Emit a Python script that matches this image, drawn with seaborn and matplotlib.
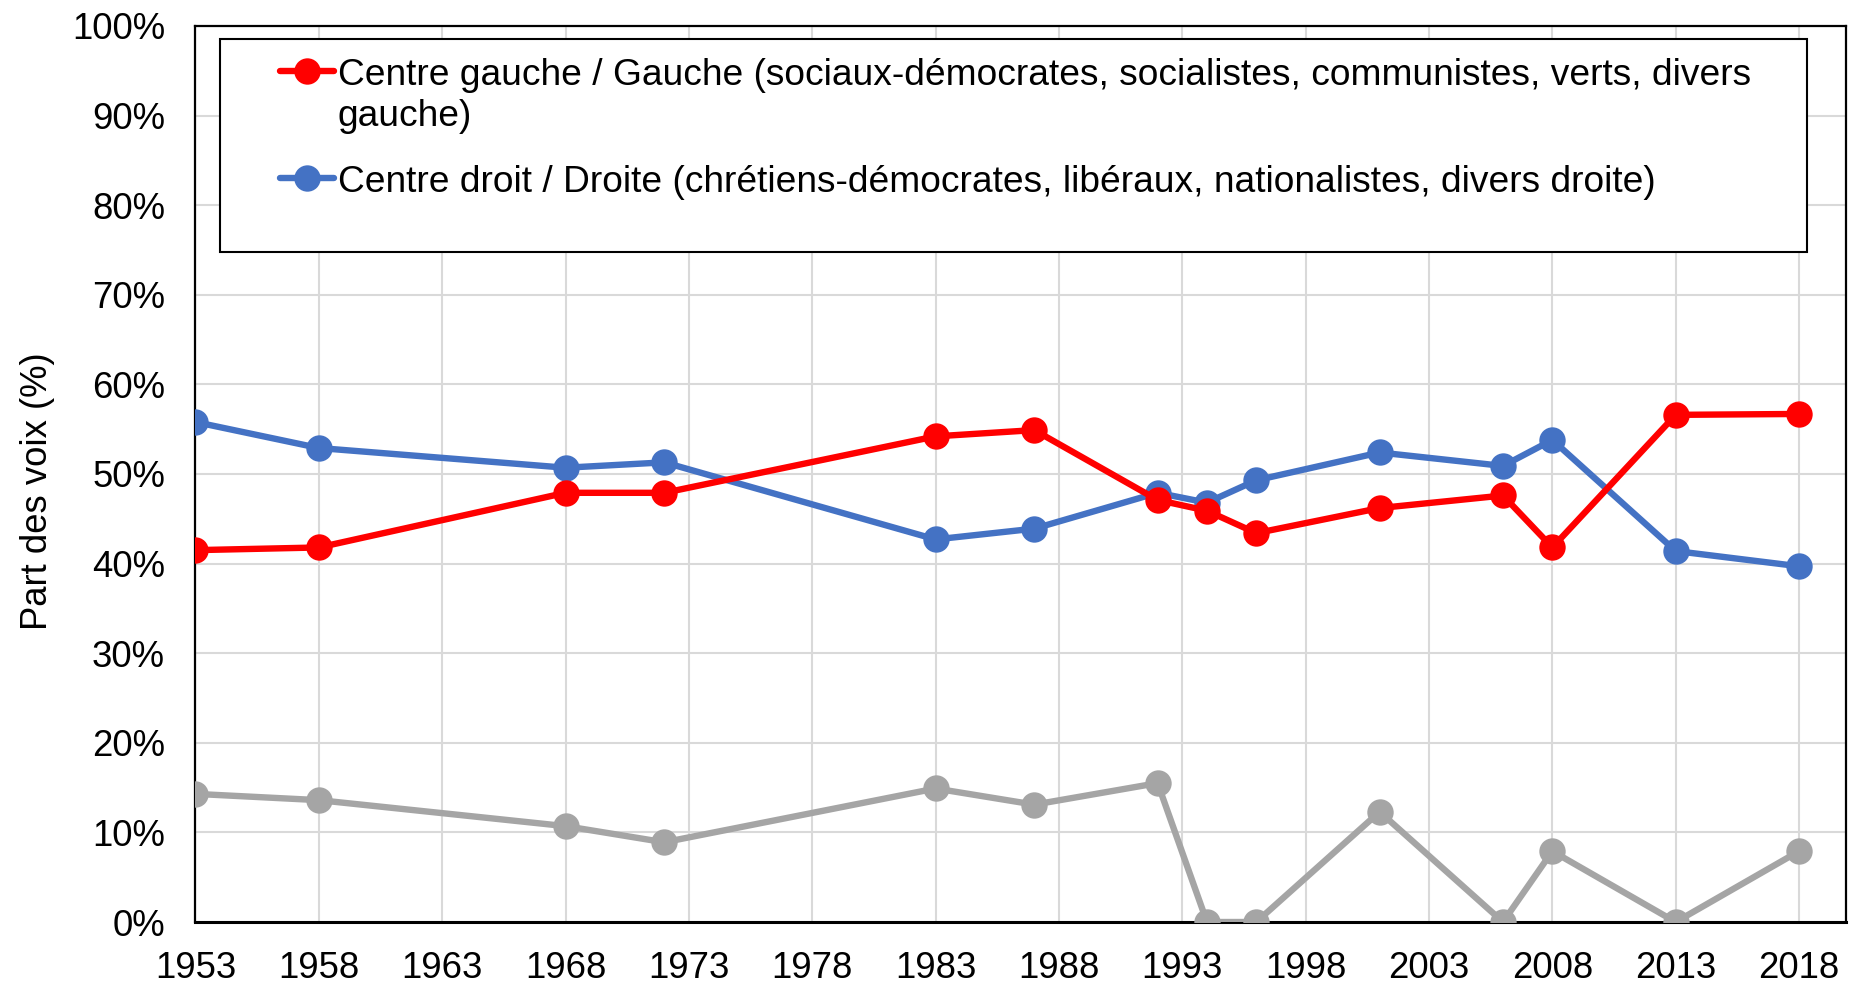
import matplotlib
matplotlib.use("Agg")
import matplotlib.pyplot as plt
import seaborn as sns
import pandas as pd
from matplotlib.lines import Line2D
from matplotlib.legend_handler import HandlerLine2D

years = [1953, 1958, 1968, 1972, 1983, 1987, 1992, 1994, 1996, 2001, 2006, 2008, 2013, 2018]
gauche = [41.5, 41.8, 47.9, 47.9, 54.2, 54.9, 47.1, 45.9, 43.4, 46.2, 47.6, 41.8, 56.6, 56.7]
droite = [55.8, 52.9, 50.7, 51.3, 42.7, 43.9, 47.9, 46.8, 49.3, 52.4, 50.9, 53.8, 41.4, 39.7]
autres = [14.3, 13.6, 10.7, 8.9, 14.9, 13.1, 15.5, 0.0, 0.0, 12.3, 0.0, 7.9, 0.0, 7.9]

label_g = "Centre gauche / Gauche (sociaux-démocrates, socialistes, communistes, verts, divers\ngauche)"
label_d = "Centre droit / Droite (chrétiens-démocrates, libéraux, nationalistes, divers droite)"
xticks = list(range(1953, 2019, 5))
yticks = list(range(0, 101, 10))
ytick_labels = [f"{v}%" for v in yticks]
ylabel = "Part des voix (%)"

sns.set_theme(style="white")
plt.rcParams['font.family'] = ['Liberation Sans', 'DejaVu Sans']
for k in ["text.color", "axes.labelcolor", "xtick.color", "ytick.color"]:
    plt.rcParams[k] = "black"

fig = plt.figure(figsize=(18.58, 9.84), dpi=100)
ax = fig.add_axes([0.1052, 0.0630, 0.9935 - 0.1052, 0.9736 - 0.0630])

df = pd.DataFrame({"year": years, "g": gauche, "d": droite, "a": autres})
FS = 26.3
LFS = 26.7
lw = 4.6
ms = 19

sns.lineplot(data=df, x="year", y="a", ax=ax, color="#A5A5A5", lw=lw, marker="o",
             markersize=ms, markeredgewidth=0, zorder=3, legend=False)
sns.lineplot(data=df, x="year", y="d", ax=ax, color="#4472C4", lw=lw, marker="o",
             markersize=ms, markeredgewidth=0, zorder=4, legend=False)
sns.lineplot(data=df, x="year", y="g", ax=ax, color="#FF0000", lw=lw, marker="o",
             markersize=ms, markeredgewidth=0, zorder=5, legend=False)

ax.set_xlim(1953, 2019.9)
ax.set_ylim(0, 100)
ax.set_xticks(xticks)
ax.set_xticklabels([str(x) for x in xticks], fontsize=FS)
ax.set_yticks(yticks)
ax.set_yticklabels(ytick_labels, fontsize=FS)
ax.tick_params(axis="x", length=0, pad=21)
ax.tick_params(axis="y", length=0, pad=22)
ax.set_xlabel("")
ax.set_ylabel(ylabel, fontsize=FS)
ax.yaxis.set_label_coords(-0.085, 0.481)
for s in ax.spines.values():
    s.set_visible(True)
    s.set_color("black")
    s.set_linewidth(1.6)
ax.spines["bottom"].set_linewidth(2.2)
ax.grid(True, color="#D9D9D9", lw=1.5)
ax.set_axisbelow(True)


class ShiftedLine(HandlerLine2D):
    def __init__(self, offset, **kw):
        super().__init__(**kw)
        self.offset = offset

    def create_artists(self, legend, orig_handle, xdescent, ydescent, width, height, fontsize, trans):
        return super().create_artists(legend, orig_handle, xdescent - self.offset, ydescent,
                                      width - self.offset, height, fontsize, trans)


h_g = Line2D([], [], color="#FF0000", lw=lw, marker="o", markersize=ms, markeredgewidth=0)
h_d = Line2D([], [], color="#4472C4", lw=lw, marker="o", markersize=ms, markeredgewidth=0)
h_e = Line2D([], [], color="none", lw=0)
handler = ShiftedLine(offset=29)
leg = ax.legend([h_g, h_d, h_e], [label_g, label_d, ""], loc="upper left",
                bbox_to_anchor=(220 / 1858, 1 - 252 / 984, 1587 / 1858, 213 / 984),
                bbox_transform=fig.transFigure, mode="expand",
                handler_map={Line2D: handler},
                fontsize=LFS, frameon=True, fancybox=False, framealpha=1, edgecolor="black",
                handlelength=2.56, handletextpad=0.1, borderpad=0.52, labelspacing=0.84,
                borderaxespad=0)
leg.get_frame().set_linewidth(1.5)
leg.get_texts()[2].set_fontsize(1)
for col in leg._legend_handle_box.get_children():
    entries = col.get_children()
    for hp in entries:
        hp.align = "top"
    da = entries[2].get_children()[0]
    da.height = 1
    da.ydescent = 0

fig.savefig("out.png", dpi=100)
